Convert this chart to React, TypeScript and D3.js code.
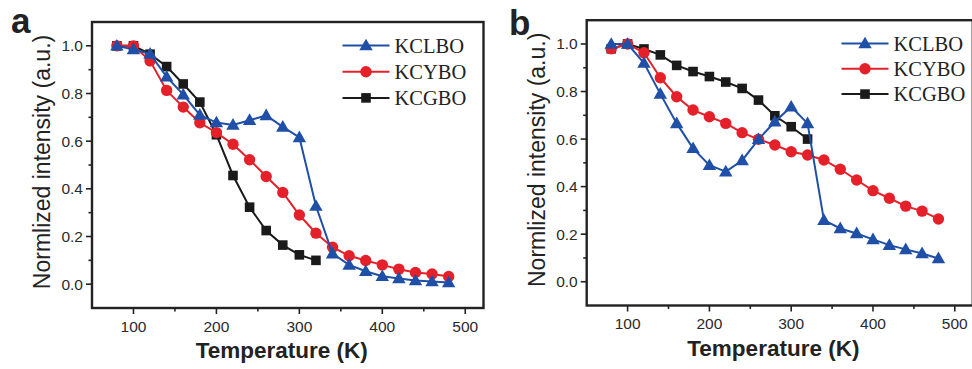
import React from "react";
import * as d3 from "d3";

const temps = [80, 100, 120, 140, 160, 180, 200, 220, 240, 260, 280, 300, 320, 340, 360, 380, 400, 420, 440, 460, 480];
const tempsShort = [80, 100, 120, 140, 160, 180, 200, 220, 240, 260, 280, 300, 320];

const aKCLBO = [1.0, 0.985, 0.966, 0.87, 0.795, 0.71, 0.678, 0.668, 0.688, 0.708, 0.66, 0.616, 0.328, 0.128, 0.081, 0.054, 0.033, 0.024, 0.015, 0.011, 0.007];
const aKCYBO = [1.0, 1.0, 0.937, 0.813, 0.743, 0.677, 0.636, 0.587, 0.522, 0.452, 0.385, 0.29, 0.214, 0.155, 0.119, 0.099, 0.081, 0.063, 0.049, 0.043, 0.032];
const aKCGBO = [1.0, 1.0, 0.965, 0.913, 0.84, 0.764, 0.627, 0.456, 0.323, 0.225, 0.164, 0.123, 0.1];

const bKCLBO = [1.0, 1.0, 0.92, 0.79, 0.666, 0.561, 0.49, 0.463, 0.51, 0.599, 0.673, 0.736, 0.666, 0.259, 0.224, 0.203, 0.178, 0.154, 0.136, 0.119, 0.098];
const bKCYBO = [0.98, 1.0, 0.963, 0.858, 0.778, 0.722, 0.694, 0.666, 0.627, 0.599, 0.575, 0.547, 0.533, 0.512, 0.473, 0.428, 0.383, 0.351, 0.318, 0.297, 0.264];
const bKCGBO = [0.98, 1.0, 0.979, 0.954, 0.91, 0.884, 0.863, 0.84, 0.813, 0.764, 0.698, 0.652, 0.6];

const seriesNames = ["KCLBO", "KCYBO", "KCGBO"];
const xTicks = [100, 200, 300, 400, 500];
const xMinor = [150, 250, 350, 450];
const yTicks = [0.0, 0.2, 0.4, 0.6, 0.8, 1.0];
const yMinor = [0.1, 0.3, 0.5, 0.7, 0.9];
const xLabel = "Temperature (K)";
const yLabel = "Normlized intensity (a.u.)";

const BLUE = "#1f4fa6";
const RED = "#e4212a";
const BLACK = "#1a1a1a";
const AXIS = "#222";

type Series = { name: string; xs: number[]; ys: number[]; color: string; marker: "tri" | "circ" | "sq" };

function Marker({ type, x, y, color }: { type: string; x: number; y: number; color: string }) {
  if (type === "circ") return <circle cx={x} cy={y} r={5.7} fill={color} />;
  if (type === "sq") return <rect x={x - 4.8} y={y - 4.8} width={9.6} height={9.6} fill={color} />;
  const s = d3.symbol().type(d3.symbolTriangle).size(78)();
  return <path d={s || ""} transform={`translate(${x},${y + 0.9})`} fill={color} />;
}

function Panel({
  left, right, top, bottom, series, letter, letterX, letterY, legX, legY, legGap,
}: {
  left: number; right: number; top: number; bottom: number; series: Series[];
  letter: string; letterX: number; letterY: number; legX: number; legY: number; legGap: number;
}) {
  const x = d3.scaleLinear().domain([50, 522]).range([left, right]);
  const y = d3.scaleLinear().domain([-0.1, 1.1]).range([bottom, top]);
  const line = d3.line<[number, number]>().x((d) => x(d[0])).y((d) => y(d[1]));
  const drawOrder = [2, 1, 0];
  const tickFont = { fontFamily: "'Liberation Sans', Arial, sans-serif", fontSize: 15.5, fill: "#2a2a2a" };
  return (
    <g>
      <rect x={left} y={top} width={right - left} height={bottom - top} fill="none" stroke={AXIS} strokeWidth={2.4} />
      {xTicks.map((t) => (
        <g key={"xt" + t}>
          <line x1={x(t)} x2={x(t)} y1={bottom} y2={bottom + 6} stroke={AXIS} strokeWidth={1.6} />
          <text x={x(t)} y={bottom + 23.5} textAnchor="middle" {...tickFont}>{t}</text>
        </g>
      ))}
      {xMinor.map((t) => (
        <line key={"xm" + t} x1={x(t)} x2={x(t)} y1={bottom} y2={bottom + 3.5} stroke={AXIS} strokeWidth={1.6} />
      ))}
      {yTicks.map((t) => (
        <g key={"yt" + t}>
          <line x1={left - 6} x2={left} y1={y(t)} y2={y(t)} stroke={AXIS} strokeWidth={1.6} />
          <text x={left - 9} y={y(t) + 5.5} textAnchor="end" {...tickFont}>{d3.format(".1f")(t)}</text>
        </g>
      ))}
      {yMinor.map((t) => (
        <line key={"ym" + t} x1={left - 3.5} x2={left} y1={y(t)} y2={y(t)} stroke={AXIS} strokeWidth={1.6} />
      ))}
      <text x={(left + Math.min(right, 972)) / 2 - 6} y={bottom + 50} textAnchor="middle"
        fontFamily="'Liberation Sans', Arial, sans-serif" fontWeight="bold" fontSize={22.5} fill="#222">{xLabel}</text>
      <text transform={`translate(${left - 42},${(top + bottom) / 2 - 3}) rotate(-90)`} textAnchor="middle"
        fontFamily="'Liberation Sans', Arial, sans-serif" fontSize={23} fill="#222">{yLabel}</text>
      <text x={letterX} y={letterY} fontFamily="'Liberation Sans', Arial, sans-serif" fontWeight="bold" fontSize={35} fill="#222">{letter}</text>
      {drawOrder.map((i) => {
        const s = series[i];
        const pts: [number, number][] = s.xs.map((v, k) => [v, s.ys[k]]);
        return (
          <g key={s.name}>
            <path d={line(pts) || ""} fill="none" stroke={s.color} strokeWidth={2} />
            {pts.map((p, k) => (
              <Marker key={k} type={s.marker} x={x(p[0])} y={y(p[1])} color={s.color} />
            ))}
          </g>
        );
      })}
      {series.map((s, i) => {
        const cy = legY + i * legGap;
        return (
          <g key={"lg" + s.name}>
            <line x1={legX} x2={legX + 47} y1={cy} y2={cy} stroke={s.color} strokeWidth={2} />
            <Marker type={s.marker} x={legX + 23.5} y={cy} color={s.color} />
            <text x={legX + 52} y={cy + 7} fontFamily="'Liberation Serif', 'Times New Roman', serif" fontSize={20.5} fill="#222">{s.name}</text>
          </g>
        );
      })}
    </g>
  );
}

export default function App() {
  const seriesA: Series[] = [
    { name: seriesNames[0], xs: temps, ys: aKCLBO, color: BLUE, marker: "tri" },
    { name: seriesNames[1], xs: temps, ys: aKCYBO, color: RED, marker: "circ" },
    { name: seriesNames[2], xs: tempsShort, ys: aKCGBO, color: BLACK, marker: "sq" },
  ];
  const seriesB: Series[] = [
    { name: seriesNames[0], xs: temps, ys: bKCLBO, color: BLUE, marker: "tri" },
    { name: seriesNames[1], xs: temps, ys: bKCYBO, color: RED, marker: "circ" },
    { name: seriesNames[2], xs: tempsShort, ys: bKCGBO, color: BLACK, marker: "sq" },
  ];
  return (
    <svg width={972} height={369} style={{ position: "absolute", left: 0, top: 0, background: "#fff" }}>
      <rect width={972} height={369} fill="#fff" />
      <Panel left={92} right={483.5} top={22} bottom={308} series={seriesA} letter="a" letterX={11} letterY={33}
        legX={342.5} legY={45.5} legGap={26.2} />
      <Panel left={586.7} right={972.8} top={20.2} bottom={305.5} series={seriesB} letter="b" letterX={509} letterY={35}
        legX={841.5} legY={43.5} legGap={25.3} />
    </svg>
  );
}
